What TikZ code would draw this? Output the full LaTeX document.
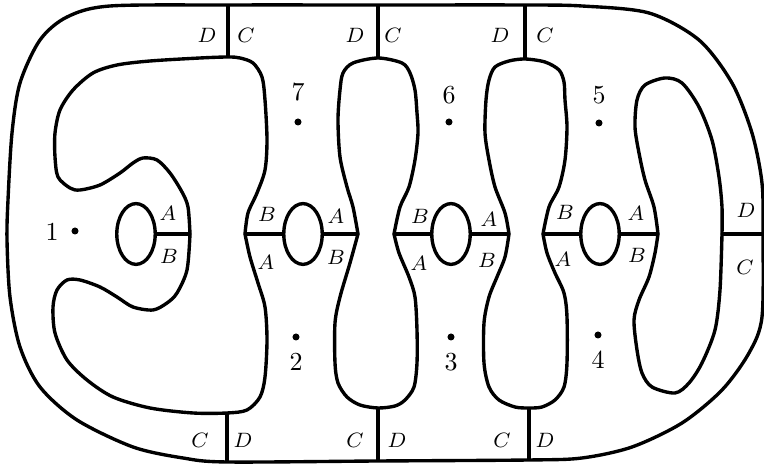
\documentclass[tikz,border=0pt]{standalone}
\usetikzlibrary{shapes.geometric}
\tikzset{
  wall/.style={line width=1.3pt, line join=round, line cap=round},
  cut/.style={line width=1.3pt},
  hole/.style={draw, ellipse, line width=1.3pt, inner sep=0pt,
               minimum width=14.8pt, minimum height=23.4pt},
  lbl/.style={font=\footnotesize, inner sep=1pt},
  num/.style={font=\normalsize, inner sep=1pt},
  pt/.style={circle, fill, inner sep=0pt, minimum size=2.7pt},
}

\begin{document}
\begin{tikzpicture}[x=0.385pt, y=-0.385pt]
  \useasboundingbox (0,0) rectangle (764,465);

  % junctions on the outer wall
  \coordinate (T1) at (228,5);   \coordinate (T2) at (378,5);   \coordinate (T3) at (525,5);
  \coordinate (B1) at (227,462); \coordinate (B2) at (378,461); \coordinate (B3) at (529,460);
  \coordinate (R)  at (763,234);
  % junctions on the inner walls
  \coordinate (t1) at (228,57);  \coordinate (t2) at (378,58);  \coordinate (t3) at (525,59);
  \coordinate (b1) at (227,413); \coordinate (b2) at (378,408); \coordinate (b3) at (529,408);
  \coordinate (j1R) at (190,234);
  \coordinate (j2L) at (245,234); \coordinate (j2R) at (358,234);
  \coordinate (j3L) at (394,234); \coordinate (j3R) at (509,234);
  \coordinate (j4L) at (543,234); \coordinate (j4R) at (658,234);
  \coordinate (r4) at (722,234);

  \draw[wall] plot[smooth cycle] coordinates {(T1) (T2) (T3) (582,6) (649,13) (699,40)
    (732,83) (752,133) (762,183) (R) (762,317) (749,353) (722,390) (682,423) (632,447)
    (582,458) (B3) (B2) (B1) (183,458) (133,447) (77,420) (40,387) (20,347) (10,297)
    (7,240) (8,200) (12,133) (20,83) (40,40) (67,17) (110,6)};

  \draw[wall] plot[smooth] coordinates {(j1R) (188,207) (182,192) (170,173) (157,160)
    (143,158) (133,163) (120,173) (100,185) (80,190) (70,188) (58,177) (55,157)
    (55,133) (60,110) (73,90) (93,73) (117,65) (150,61) (200,58) (t1) (240,58)
    (253,63) (262,77) (265,100) (267,140) (265,170) (257,193) (248,213) (j2L)};
  \draw[wall] plot[smooth] coordinates {(j1R) (187,270) (177,293) (167,303) (153,310)
    (133,307) (117,297) (100,287) (80,280) (67,280) (57,290) (53,307) (55,333)
    (67,360) (87,380) (113,397) (150,408) (193,413) (b1) (247,410) (260,397)
    (265,377) (267,340) (265,307) (258,283) (250,257) (j2L)};

  \draw[wall] plot[smooth] coordinates {(j2R) (353,207) (347,187) (340,157) (338,120)
    (340,90) (343,73) (353,63) (t2) (402,63) (410,73) (415,90) (417,113) (418,133)
    (415,160) (409,187) (400,207) (j3L)};
  \draw[wall] plot[smooth] coordinates {(j2R) (350,263) (340,297) (335,323) (335,363)
    (338,383) (347,397) (360,405) (b2) (395,406) (405,400) (414,387) (417,363)
    (417,330) (415,297) (409,277) (399,253) (j3L)};

  \draw[wall] plot[smooth] coordinates {(j3R) (505,213) (495,187) (489,160) (485,133)
    (486,100) (489,80) (495,67) (509,61) (t3) (545,62) (559,70) (564,82) (565,100)
    (567,127) (565,160) (559,187) (549,207) (j4L)};
  \draw[wall] plot[smooth] coordinates {(j3R) (505,257) (497,277) (489,297) (484,323)
    (484,363) (489,387) (499,400) (515,407) (b3) (542,407) (555,400) (564,387)
    (567,363) (567,317) (564,293) (555,273) (547,253) (j4L)};

  \draw[wall] plot[smooth] coordinates {(j4R) (654,207) (645,180) (639,153) (635,127)
    (637,100) (645,85) (665,78) (682,83) (699,107) (712,140) (719,177) (722,207) (r4)};
  \draw[wall] plot[smooth] coordinates {(j4R) (655,253) (649,277) (639,300) (634,320)
    (637,350) (642,373) (652,387) (675,393) (689,383) (702,363) (715,330) (720,290)
    (r4)};

  \node[hole] (e1) at (136,234) {};
  \node[hole] (e2) at (303,234) {};
  \node[hole] (e3) at (451,234) {};
  \node[hole] (e4) at (600,234) {};

  \draw[cut] (T1) -- (t1);  \draw[cut] (T2) -- (t2);  \draw[cut] (T3) -- (t3);
  \draw[cut] (B1) -- (b1);  \draw[cut] (B2) -- (b2);  \draw[cut] (B3) -- (b3);
  \draw[cut] (e1) -- (j1R);
  \draw[cut] (j2L) -- (e2); \draw[cut] (e2) -- (j2R);
  \draw[cut] (j3L) -- (e3); \draw[cut] (e3) -- (j3R);
  \draw[cut] (j4L) -- (e4); \draw[cut] (e4) -- (j4R);
  \draw[cut] (r4) -- (R);

  \node[lbl] (tD1) at (207,35) {$D$};  \node[lbl] (tC1) at (246,35) {$C$};
  \node[lbl] (tD2) at (355,35) {$D$};  \node[lbl] (tC2) at (393,35) {$C$};
  \node[lbl] (tD3) at (500,35) {$D$};  \node[lbl] (tC3) at (545,35) {$C$};
  \node[lbl] (bC1) at (200,440) {$C$}; \node[lbl] (bD1) at (243,440) {$D$};
  \node[lbl] (bC2) at (355,440) {$C$}; \node[lbl] (bD2) at (397,440) {$D$};
  \node[lbl] (bC3) at (502,440) {$C$}; \node[lbl] (bD3) at (545,440) {$D$};

  \node[lbl] (uA1) at (168,213) {$A$}; \node[lbl] (lB1) at (169,256) {$B$};
  \node[lbl] (uB2) at (267,214) {$B$}; \node[lbl] (lA2) at (266,262) {$A$};
  \node[lbl] (uA2) at (336,216) {$A$}; \node[lbl] (lB2) at (336,257) {$B$};
  \node[lbl] (uB3) at (420,216) {$B$}; \node[lbl] (lA3) at (419,263) {$A$};
  \node[lbl] (uA3) at (489,219) {$A$}; \node[lbl] (lB3) at (487,260) {$B$};
  \node[lbl] (uB4) at (565,212) {$B$}; \node[lbl] (lA4) at (563,259) {$A$};
  \node[lbl] (uA4) at (636,213) {$A$}; \node[lbl] (lB4) at (637,255) {$B$};
  \node[lbl] (rD) at (746,210) {$D$};  \node[lbl] (rC) at (745,267) {$C$};

  \node[num] (n1) at (52,232) {1};  \node[pt] (p1) at (75,231) {};
  \node[num] (n7) at (298,92) {7};  \node[pt] (p7) at (298,122) {};
  \node[num] (n6) at (449,95) {6};  \node[pt] (p6) at (449,122) {};
  \node[num] (n5) at (599,95) {5};  \node[pt] (p5) at (599,123) {};
  \node[num] (n2) at (296,362) {2}; \node[pt] (p2) at (296,337) {};
  \node[num] (n3) at (451,362) {3}; \node[pt] (p3) at (451,337) {};
  \node[num] (n4) at (598,360) {4}; \node[pt] (p4) at (598,335) {};
\end{tikzpicture}
\end{document}
